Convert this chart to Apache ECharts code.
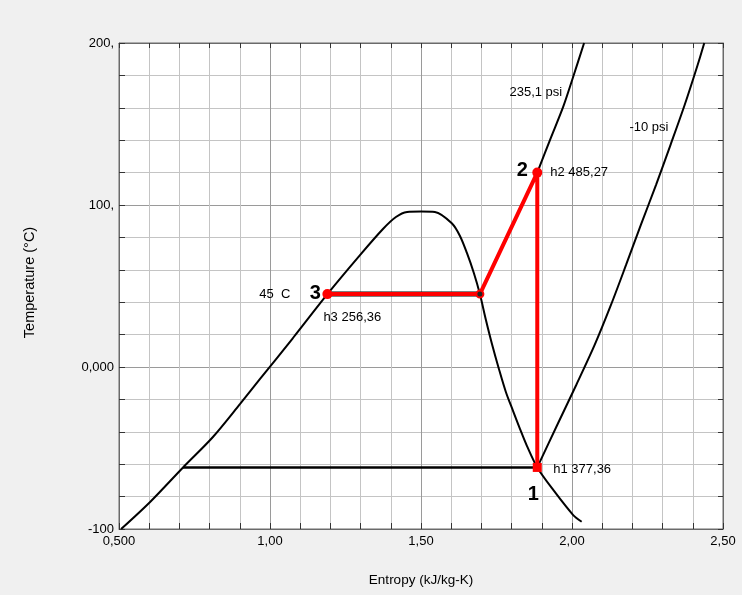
<!DOCTYPE html>
<html><head><meta charset="utf-8">
<script src="https://cdn.jsdelivr.net/npm/echarts@6/dist/echarts.min.js"></script>
<style>html,body{margin:0;padding:0;background:#f0f0f0}#c{width:742px;height:595px}</style>
</head><body><div id="c"></div>
<script>
// ---- data ----
const domeS = [0.507, 0.603, 0.712, 0.811, 0.901, 0.967, 1.076, 1.19, 1.298, 1.374, 1.417, 1.454, 1.50, 1.546, 1.602, 1.629, 1.652, 1.675, 1.695, 1.715, 1.735, 1.758, 1.781, 1.805, 1.828, 1.851, 1.885, 1.938, 2.004, 2.032];
const domeT = [-100, -83.3, -62, -43.2, -22.8, -7.4, 17.9, 45, 69.1, 85.2, 92.6, 95.7, 96, 95.7, 88.7, 80.9, 70.4, 58, 45, 29, 14.2, -1.2, -15.4, -27.2, -38.3, -48.8, -62, -75.9, -91.4, -95.5];
const isoHighS = [1.885, 1.927, 1.971, 2.004, 2.04];
const isoHighT = [120, 140.1, 160.7, 179.2, 200];
const isoLowS = [1.885, 1.951, 2.014, 2.075, 2.129, 2.179, 2.228, 2.278, 2.326, 2.373, 2.416, 2.438];
const isoLowT = [-62, -35.8, -11.1, 13.6, 38.3, 63, 87.7, 112.3, 137, 161.7, 186.4, 200];
const evapS = [0.712, 1.885];
const evapT = [-62, -62];
const condS = [1.19, 1.695];
const condT = [45, 45];
const cycleS = [1.19, 1.695, 1.885, 1.885];
const cycleT = [45, 45, 120, -62];
const stateS = [1.885, 1.885, 1.19, 1.695];
const stateT = [-62, 120, 45, 45];
const stateNums = ['1', '2', '3', ''];
const stateEnthalpy = ['h1 377,36', 'h2 485,27', 'h3 256,36', ''];
const condTempLabel = '45  C';
const isoHighLabel = '235,1 psi';
const isoLowLabel = '-10 psi';
const xTickValues = [0.5, 1.0, 1.5, 2.0, 2.5];
const xTickTexts = ['0,500', '1,00', '1,50', '2,00', '2,50'];
const yTickValues = [-100, 0, 100, 200];
const yTickTexts = ['-100', '0,000', '100,', '200,'];
const xTitle = 'Entropy (kJ/kg-K)';
const yTitle = 'Temperature (°C)';

// ---- helpers ----
const zip = (a, b) => a.map((v, i) => [v, b[i]]);
const lookup = (vals, texts) => v => {
  for (let i = 0; i < vals.length; i++) if (Math.abs(v - vals[i]) < 1e-6) return texts[i];
  return '';
};
const FONT = "'Liberation Sans', Arial, sans-serif";
const gridColors = ['#9a9a9a', '#c4c4c4', '#c4c4c4', '#c4c4c4', '#c4c4c4'];

const chart = echarts.init(document.getElementById('c'), null, {renderer: 'canvas'});

const txt = {fontFamily: FONT, fontSize: 13, color: '#000', textBorderWidth: 0};
const big = {fontFamily: FONT, fontSize: 20, fontWeight: 'bold', color: '#000', textBorderWidth: 0};

function lbl(text, style, align, offset) {
  return Object.assign({show: true, position: 'inside', formatter: text, align: align, verticalAlign: 'middle', offset: offset}, style);
}

const annotations = [
  {value: [stateS[0], stateT[0]], label: lbl(stateNums[0], big, 'center', [-4, 27])},
  {value: [stateS[0], stateT[0]], label: lbl(stateEnthalpy[0], txt, 'left', [16, 2])},
  {value: [stateS[1], stateT[1]], label: lbl(stateNums[1], big, 'center', [-15, -2])},
  {value: [stateS[1], stateT[1]], label: lbl(stateEnthalpy[1], txt, 'left', [13, 0])},
  {value: [stateS[2], stateT[2]], label: lbl(stateNums[2], big, 'center', [-12, -1])},
  {value: [stateS[2], stateT[2]], label: lbl(stateEnthalpy[2], txt, 'left', [-4, 23])},
  {value: [stateS[2], stateT[2]], label: lbl(condTempLabel, txt, 'right', [-37, 0])},
  {value: [isoHighS[2], isoHighT[2]], label: lbl(isoHighLabel, txt, 'right', [-1, -14])},
  {value: [isoLowS[8], isoLowT[8]], label: lbl(isoLowLabel, txt, 'right', [-2, -18])}
];

const xBase = {type: 'value', min: 0.5, max: 2.5, interval: 0.1};
const yBase = {type: 'value', min: -100, max: 200, interval: 20};
const axisLine = {show: true, onZero: false, lineStyle: {color: '#6a6a6a', width: 1}};

const option = {
  backgroundColor: '#f0f0f0',
  animation: false,
  textStyle: {fontFamily: FONT},
  grid: {left: 119, top: 43, right: 19, bottom: 66, show: true, backgroundColor: '#ffffff', borderColor: '#6a6a6a', borderWidth: 1, containLabel: false, outerBoundsMode: 'none'},
  xAxis: [
    Object.assign({}, xBase, {
      position: 'bottom',
      name: xTitle, nameLocation: 'middle', nameGap: 44,
      nameTextStyle: {fontFamily: FONT, fontSize: 13.5, color: '#000'},
      axisLine: axisLine,
      axisTick: {show: true, inside: true, length: 6, lineStyle: {color: '#333'}},
      axisLabel: {show: true, formatter: lookup(xTickValues, xTickTexts), fontFamily: FONT, fontSize: 13, color: '#000', margin: 6, hideOverlap: false, showMinLabel: true, showMaxLabel: true},
      splitLine: {show: true, lineStyle: {color: gridColors, width: 1}}
    }),
    Object.assign({}, xBase, {
      position: 'top',
      axisLine: axisLine,
      axisTick: {show: true, inside: true, length: 5, lineStyle: {color: '#333'}},
      axisLabel: {show: false},
      splitLine: {show: false}
    })
  ],
  yAxis: [
    Object.assign({}, yBase, {
      position: 'left',
      name: yTitle, nameLocation: 'middle', nameGap: 82, nameRotate: 90,
      nameTextStyle: {fontFamily: FONT, fontSize: 14.5, color: '#000', padding: [0, 0, 0, 7]},
      axisLine: axisLine,
      axisTick: {show: true, inside: true, length: 6, lineStyle: {color: '#333'}},
      axisLabel: {show: true, formatter: lookup(yTickValues, yTickTexts), fontFamily: FONT, fontSize: 13, color: '#000', margin: 5, hideOverlap: false, showMinLabel: true, showMaxLabel: true},
      splitLine: {show: true, lineStyle: {color: gridColors, width: 1}}
    }),
    Object.assign({}, yBase, {
      position: 'right',
      axisLine: axisLine,
      axisTick: {show: true, inside: true, length: 5, lineStyle: {color: '#333'}},
      axisLabel: {show: false},
      splitLine: {show: false}
    })
  ],
  series: [
    {type: 'line', data: zip(domeS, domeT), showSymbol: false, smooth: 0.3, lineStyle: {color: '#000', width: 2}, z: 3},
    {type: 'line', data: zip(isoHighS, isoHighT), showSymbol: false, smooth: 0.3, lineStyle: {color: '#000', width: 2}, z: 3},
    {type: 'line', data: zip(isoLowS, isoLowT), showSymbol: false, smooth: 0.3, lineStyle: {color: '#000', width: 2}, z: 3},
    {type: 'line', data: zip(evapS, evapT), showSymbol: false, lineStyle: {color: '#000', width: 2.5}, z: 3},
    {type: 'line', data: zip(condS, condT), showSymbol: false, lineStyle: {color: '#000', width: 5}, z: 3},
    {type: 'line', data: zip(cycleS, cycleT), showSymbol: false, lineStyle: {color: '#ff0000', width: 4}, z: 4},
    {type: 'scatter', z: 5, itemStyle: {opacity: 1}, data: [
      {value: [stateS[0], stateT[0]], symbol: 'rect', symbolSize: 9, itemStyle: {color: '#ff0000', opacity: 1}},
      {value: [stateS[1], stateT[1]], symbol: 'circle', symbolSize: 10, itemStyle: {color: '#ff0000', opacity: 1}},
      {value: [stateS[2], stateT[2]], symbol: 'circle', symbolSize: 10, itemStyle: {color: '#ff0000', opacity: 1}},
      {value: [stateS[3], stateT[3]], symbol: 'circle', symbolSize: 7, itemStyle: {color: '#222', borderColor: '#ff0000', borderWidth: 2, opacity: 1}}
    ]},
    {type: 'scatter', z: 6, symbolSize: 0, silent: true, itemStyle: {opacity: 1}, data: annotations}
  ]
};
chart.setOption(option);
</script>
</body></html>
